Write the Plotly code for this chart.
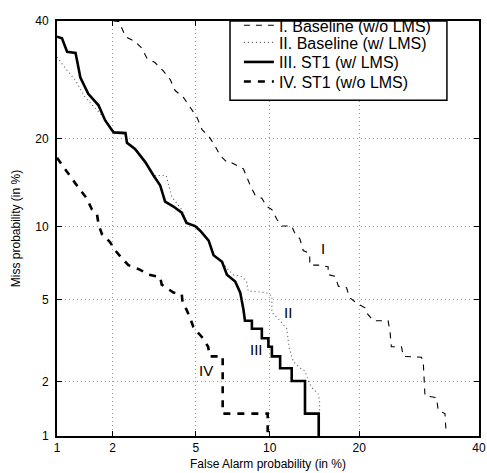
import plotly.graph_objects as go
from statistics import NormalDist

# ---------------- data (values in %) ----------------
tick_values = [1, 2, 5, 10, 20, 40]
tick_labels = ["1", "2", "5", "10", "20", "40"]

far_I = [2.02, 2.16, 2.33, 2.6, 2.81, 2.97, 3.26, 3.56, 3.83, 4.04, 4.4, 4.7, 5.05, 5.33, 5.7,
         6.06, 6.37, 6.79, 7.0, 7.92, 8.42, 8.8, 9.34, 9.76, 10.19, 10.63, 11.07, 12.03, 12.3,
         12.86, 13.2, 13.9, 13.9, 14.85, 16.0, 16.0, 16.85, 17.25, 18.3, 18.7, 19.9, 20.8, 21.0,
         21.98, 24.2, 24.5, 24.7, 26.3, 26.6, 29.6, 29.9, 30.2, 32.2, 32.5, 33.7, 33.9]
miss_I = [40, 39.9, 37.0, 36.1, 34.85, 33.07, 32.2, 30.75, 29.3, 27.4, 26.3, 24.7, 23.2, 21.3,
          20.35, 19.0, 17.7, 16.9, 16.9, 16.05, 14.14, 13.07, 12.74, 11.9, 11.6, 10.68, 10.08,
          10.08, 9.53, 8.98, 8.08, 7.86, 7.04, 7.04, 6.93, 6.42, 6.32, 5.73, 5.64, 5.1, 4.76,
          4.59, 4.37, 4.0, 4.0, 3.54, 3.0, 3.0, 2.69, 2.66, 2.53, 1.68, 1.64, 1.4, 1.34, 1.06]

far_II = [1.0, 1.11, 1.27, 1.43, 1.73, 1.98, 2.03, 2.33, 2.37, 2.6, 2.92, 3.2, 3.67, 3.9, 4.33,
          4.55, 4.97, 5.23, 5.69, 5.97, 6.37, 6.79, 7.22, 7.8, 8.15, 8.27, 9.7, 10.19, 10.19,
          10.93, 11.55, 11.8, 12.19, 12.86, 13.39, 13.75, 14.1, 14.83, 15.0, 15.0]
miss_II = [33.25, 31.3, 29.1, 26.3, 23.7, 21.3, 20.9, 20.8, 19.45, 18.6, 16.9, 15.27, 15.27,
           12.9, 11.6, 10.35, 10.07, 9.66, 8.85, 7.73, 7.4, 6.83, 6.4, 6.3, 6.0, 5.45, 5.37,
           5.18, 4.37, 4.0, 3.67, 2.95, 2.53, 2.35, 2.26, 2.01, 1.86, 1.72, 1.58, 1.0]

far_III = [1.0, 1.067, 1.14, 1.27, 1.35, 1.49, 1.69, 1.83, 1.98, 2.03, 2.33, 2.37, 2.6, 2.92,
           3.2, 3.44, 3.63, 3.97, 4.33, 4.55, 4.97, 5.23, 5.69, 5.97, 6.48, 6.79, 7.34, 7.69,
           7.92, 8.03, 8.55, 8.55, 9.34, 9.34, 9.89, 9.89, 10.19, 10.19, 10.93, 10.93, 12.03,
           12.03, 13.39, 13.39, 14.9, 14.9]
miss_III = [37.0, 36.7, 34.2, 34.0, 29.6, 26.85, 25.0, 22.7, 21.3, 20.9, 20.8, 19.45, 18.6,
            16.9, 15.27, 14.15, 12.4, 11.9, 11.3, 10.35, 10.07, 9.66, 8.85, 7.73, 7.27, 6.42,
            6.0, 5.37, 4.51, 4.0, 4.0, 3.67, 3.67, 3.3, 3.3, 3.0, 3.0, 2.69, 2.69, 2.34, 2.34,
            2.01, 2.01, 1.34, 1.34, 1.0]

far_IV = [1.0, 1.07, 1.16, 1.27, 1.35, 1.46, 1.56, 1.66, 1.69, 1.76, 1.94, 2.07, 2.24, 2.41,
          2.76, 3.02, 3.44, 3.5, 3.97, 4.33, 4.37, 4.55, 4.71, 4.88, 5.03, 5.38, 5.66, 5.75,
          6.52, 6.52, 9.83, 9.83]
miss_IV = [17.45, 16.46, 15.47, 14.33, 13.6, 12.74, 11.6, 11.13, 10.23, 9.39, 8.73, 8.07, 7.5,
           7.04, 6.73, 6.42, 6.27, 5.82, 5.37, 5.28, 4.84, 4.5, 4.15, 3.74, 3.58, 3.3, 3.0,
           2.69, 2.69, 1.34, 1.34, 1.0]

series_names = ["I. Baseline (w/o LMS)", "II. Baseline (w/ LMS)", "III. ST1 (w/ LMS)", "IV. ST1 (w/o LMS)"]
curve_labels = ["I", "II", "III", "IV"]
label_far = [15.4, 11.7, 8.9, 5.56]
label_miss = [8.2, 4.37, 2.9, 2.27]

# ---------------- probit (normal deviate) scale ----------------
_nd = NormalDist()


def probit(vals):
    return [_nd.inv_cdf(v / 100.0) for v in vals]


FONT = "Liberation Sans"

fig = go.Figure()
styles = [
    dict(color="black", width=1.1, dash="6px,6px"),
    dict(color="#555555", width=1.1, dash="1px,3px"),
    dict(color="black", width=2.6, dash="solid"),
    dict(color="black", width=2.6, dash="7px,7px"),
]
legend_ids = ["legend", "legend2", "legend3", "legend4"]
data = [(far_I, miss_I), (far_II, miss_II), (far_III, miss_III), (far_IV, miss_IV)]
for (fx, my), name, st, lg in zip(data, series_names, styles, legend_ids):
    fig.add_trace(go.Scatter(x=probit(fx), y=probit(my), mode="lines", name=name, line=st,
                             legend=lg))

for t, fx, my in zip(curve_labels, label_far, label_miss):
    fig.add_annotation(x=probit([fx])[0], y=probit([my])[0], text=t, showarrow=False,
                       font=dict(family=FONT, size=15, color="black"))

# opaque legend frame (covers the grid like the original)
fig.add_shape(type="rect", xref="paper", yref="paper", x0=0.41, x1=0.924, y0=0.809, y1=1.0,
              fillcolor="white", line=dict(color="black", width=1.5), layer="above")

axis_common = dict(
    tickvals=probit(tick_values), ticktext=tick_labels,
    showgrid=True, gridcolor="#9a9a9a", griddash="1px,3px", gridwidth=1,
    zeroline=False, showline=True, linecolor="black", linewidth=2, mirror="ticks",
    ticks="inside", ticklen=5, tickwidth=1, tickcolor="black",
    tickfont=dict(family=FONT, size=12, color="black"),
    automargin=False,
)

legend_rows_y = [0.9894, 0.9482, 0.9011, 0.8539]
legend_style = dict(x=0.431, xanchor="left", yanchor="middle",
                    bgcolor="rgba(0,0,0,0)", borderwidth=0,
                    font=dict(family=FONT, size=16, color="black"))

fig.update_layout(
    template="none",
    width=487, height=473,
    margin=dict(l=57, r=8, t=12, b=37, pad=0),
    paper_bgcolor="white", plot_bgcolor="white",
    font=dict(family=FONT, color="black"),
    showlegend=True,
    legend=dict(y=legend_rows_y[0], **legend_style),
    legend2=dict(y=legend_rows_y[1], **legend_style),
    legend3=dict(y=legend_rows_y[2], **legend_style),
    legend4=dict(y=legend_rows_y[3], **legend_style),
    xaxis=dict(range=probit([1, 40]),
               title=dict(text="False Alarm probability (in %)", standoff=5,
                          font=dict(family=FONT, size=12, color="black")),
               **axis_common),
    yaxis=dict(range=probit([1, 40]),
               title=dict(text="Miss probability (in %)", standoff=12,
                          font=dict(family=FONT, size=12, color="black")),
               ticklabelstandoff=4,
               **axis_common),
)

# remove the browser's default 8px page margin so the figure sits at the page origin
fig.write_html("out.html",
               config={"displayModeBar": False},
               post_script="document.body.style.margin='0px';"
                           "document.documentElement.style.margin='0px';")
